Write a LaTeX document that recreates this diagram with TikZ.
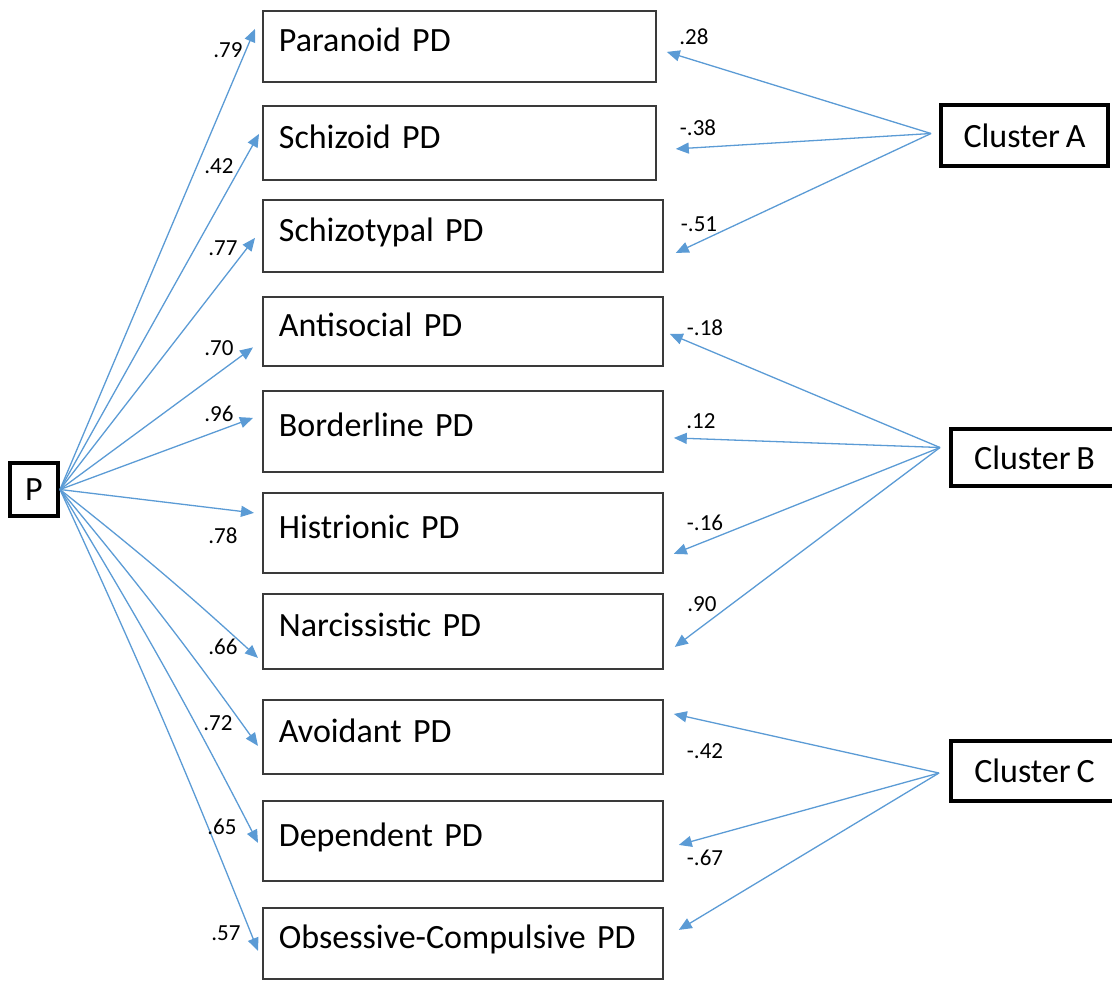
\documentclass[tikz,border=0pt]{standalone}
\usepackage{fontspec}
\setmainfont[WordSpace=0.75]{Carlito}
\usetikzlibrary{arrows.meta}
\definecolor{loadblue}{HTML}{5B9BD5}
\definecolor{boxgray}{HTML}{3A3A3A}

\begin{document}
\begin{tikzpicture}[x=0.5pt,y=-0.5pt,
  pdbox/.style={draw=boxgray,line width=0.9pt,anchor=north west,align=left,
    inner xsep=8pt,inner ysep=0pt,text width=184pt,text depth=6.5pt,
    font=\fontsize{17}{20}\selectfont},
  clbox/.style={draw=black,line width=1.8pt,minimum width=83.7pt,
    font=\fontsize{17}{20}\selectfont},
  load/.style={draw=loadblue,line width=0.65pt,-{Triangle[length=6.5pt,width=5.5pt]}},
  wt/.style={inner sep=0pt,font=\fontsize{11.5}{13}\selectfont}]
\useasboundingbox (0,0) rectangle (1112,981);
\clip (0,0) rectangle (1112,981);
% indicators
\node [pdbox,text width=180.5pt,minimum height=35.5pt] (par) at (262,10) {Paranoid PD};
\node [pdbox,text width=180.5pt,minimum height=37pt] (sch) at (262,105) {Schizoid PD};
\node [pdbox,minimum height=36pt] (scht) at (262,199) {Schizotypal PD};
\node [pdbox,minimum height=34.5pt] (ant) at (262,296) {Antisocial PD};
\node [pdbox,minimum height=40.5pt] (bor) at (262,390) {Borderline PD};
\node [pdbox,minimum height=40pt] (his) at (262,492) {Histrionic PD};
\node [pdbox,minimum height=37.5pt] (nar) at (262,593) {Narcissistic PD};
\node [pdbox,minimum height=37pt] (avo) at (262,699) {Avoidant PD};
\node [pdbox,minimum height=40pt] (dep) at (262,800) {Dependent PD};
\node [pdbox,minimum height=35.5pt] (obs) at (262,907) {Obsessive-Compulsive PD};
% factors
\node [draw=black,line width=1.8pt,minimum width=24.2pt,minimum height=26.7pt,
  font=\fontsize{17}{20}\selectfont] (P) at (34,489.5) {P};
\node [clbox,minimum height=30.7pt] (clA) at (1024.5,135.5) {Cluster A};
\node [clbox,minimum height=28.7pt] (clB) at (1034.5,457.5) {Cluster B};
\node [clbox,minimum height=30.2pt] (clC) at (1034.5,771) {Cluster C};
\coordinate (a0) at ([shift={(-8,-2)}]clA.west);
\coordinate (b0) at ([shift={(-9,-10)}]clB.west);
\coordinate (c0) at ([shift={(-10,2)}]clC.west);
% general factor loadings
\draw [load] (P.east) -- ([shift={(-7,-17.5)}]par.west);
\draw [load] (P.east) -- ([shift={(-3,-9)}]sch.west);
\draw [load] (P.east) -- ([shift={(-7,2)}]scht.west);
\draw [load] (P.east) -- ([shift={(-9,16)}]ant.west);
\draw [load] (P.east) -- ([shift={(-9,-13.5)}]bor.west);
\draw [load] (P.east) -- ([shift={(-8,-20)}]his.west);
\draw [load] (P.east) to[bend left=2] ([shift={(-4,26.5)}]nar.west);
\draw [load] (P.east) to[bend left=2] ([shift={(-4,9)}]avo.west);
\draw [load] (P.east) to[bend left=2] ([shift={(-4,2)}]dep.west);
\draw [load] (P.east) to[bend left=1.5] ([shift={(-4,7.5)}]obs.west);
% cluster loadings
\draw [load] (a0) -- ([shift={(10,5.5)}]par.east);
\draw [load] (a0) -- ([shift={(19,6)}]sch.east);
\draw [load] (a0) -- ([shift={(12,17)}]scht.east);
\draw [load] (b0) -- ([shift={(6,2.5)}]ant.east);
\draw [load] (b0) -- ([shift={(10,6.5)}]bor.east);
\draw [load] (b0) -- ([shift={(10,21)}]his.east);
\draw [load] (b0) -- ([shift={(11,15.5)}]nar.east);
\draw [load] (c0) -- ([shift={(10,-23)}]avo.east);
\draw [load] (c0) -- ([shift={(15,4)}]dep.east);
\draw [load] (c0) -- ([shift={(15,-13.5)}]obs.east);
% weights
\node [wt] (w1) at (228,50) {.79};
\node [wt] (w2) at (219,166) {.42};
\node [wt] (w3) at (223,248) {.77};
\node [wt] (w4) at (219,348) {.70};
\node [wt] (w5) at (219,414) {.96};
\node [wt] (w6) at (223,536) {.78};
\node [wt] (w7) at (223,647) {.66};
\node [wt] (w8) at (218,723) {.72};
\node [wt] (w9) at (222,827) {.65};
\node [wt] (w10) at (226,933) {.57};
\node [wt] (v1) at (694,37) {.28};
\node [wt] (v2) at (698,128) {-.38};
\node [wt] (v3) at (699,224) {-.51};
\node [wt] (v4) at (705,328) {-.18};
\node [wt] (v5) at (701,421) {.12};
\node [wt] (v6) at (705,523) {-.16};
\node [wt] (v7) at (702,604) {.90};
\node [wt] (v8) at (705,751) {-.42};
\node [wt] (v9) at (705,858) {-.67};
\end{tikzpicture}
\end{document}
